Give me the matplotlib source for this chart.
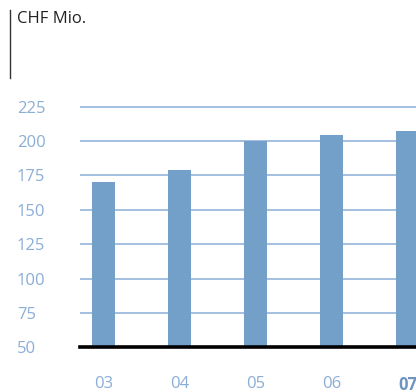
import numpy as np
import matplotlib
matplotlib.use('Agg')
import matplotlib.pyplot as plt

# Datos
years = ['03', '04', '05', '06', '07']
values = [170, 179, 200, 204.5, 207.5]
yticks = [50, 75, 100, 125, 150, 175, 200, 225]

BAR_COLOR = '#73a0c9'
GRID_COLOR = '#9dbbdc'
LABEL_COLOR = '#8badd6'
FONT = 'Open Sans'

W, H = 416, 392
fig = plt.figure(figsize=(W / 100, H / 100), dpi=100)

# Ejes: izquierda en x=80px, base 50 en y=347px, 225 en y=107px
px_per_unit = (347.3 - 106.7) / 175
ymax = 230
left = 80 / W
bottom = (H - 347.3) / H
top = (H - (347.3 - (ymax - 50) * px_per_unit)) / H
ax = fig.add_axes([left, bottom, 1 - left, top - bottom])

x = np.arange(len(years))
ax.bar(x, values, width=0.30, color=BAR_COLOR, zorder=2)
ax.set_xlim(-0.31, 4.11)
ax.set_ylim(50, ymax)

ax.set_yticks(yticks)
ax.yaxis.grid(True, color=GRID_COLOR, lw=1.3, zorder=1)
ax.set_axisbelow(True)
for s in ['top', 'right', 'left']:
    ax.spines[s].set_visible(False)
ax.spines['bottom'].set_color('black')
ax.spines['bottom'].set_linewidth(2.6)
ax.spines['bottom'].set_zorder(3)

ax.tick_params(axis='y', length=0, pad=45.4, labelsize=12, labelcolor=LABEL_COLOR)
for lab in ax.get_yticklabels():
    lab.set_horizontalalignment('left')
    lab.set_fontfamily(FONT)

ax.set_xticks(x)
ax.set_xticklabels(years)
ax.tick_params(axis='x', length=0, pad=21, labelsize=12, labelcolor=LABEL_COLOR)
for lab in ax.get_xticklabels():
    lab.set_fontfamily(FONT)
last = ax.get_xticklabels()[-1]
last.set_fontweight('bold')
last.set_color('#6f94c0')

# Titulo y linea vertical
fig.text(17 / W, 1 - 11 / H, 'CHF Mio.', ha='left', va='top',
         fontsize=12, family=FONT, color='#222222')
fig.add_artist(plt.Line2D([9.5 / W, 9.5 / W], [1 - 10 / H, 1 - 78 / H],
                          color='#333333', lw=1.0))

fig.savefig('out.png', dpi=100)
